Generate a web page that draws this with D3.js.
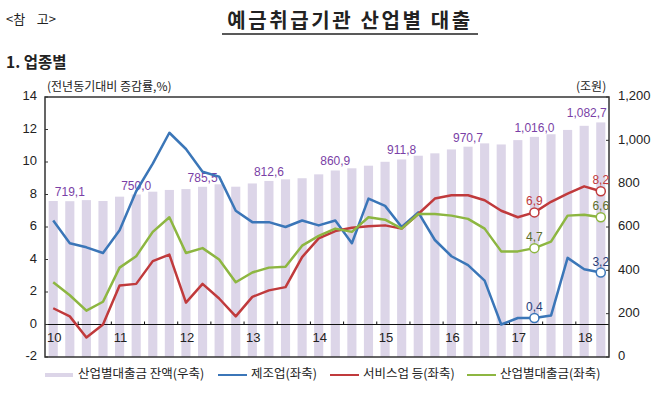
<!DOCTYPE html>
<html>
<head>
<meta charset="utf-8">
<script src="https://cdn.jsdelivr.net/npm/d3@7"></script>
<style>
  body { margin: 0; background: #fff; }
  text { font-family: "Liberation Sans", "Noto Sans CJK KR", sans-serif; fill: #222; }
  .kr { font-family: "Noto Sans CJK KR", sans-serif; }
</style>
</head>
<body>
<svg id="chart" width="660" height="393"></svg>
<script>
// quarters 2010Q1 .. 2018Q2
var years = ["10", "11", "12", "13", "14", "15", "16", "17", "18"];
var quarters = [];
years.forEach(function (y) {
    [1, 2, 3, 4].forEach(function (q) {
        if (!(y === "18" && q > 2)) {
            quarters.push(y + "Q" + q);
        }
    });
});

// 산업별대출금 잔액 (조원, right axis)
var balance = [720, 719.1, 724, 720, 740, 750.0, 763, 771, 775, 785.5, 797, 786,
    801, 812.6, 820, 825, 843, 860.9, 871, 883, 901, 911.8, 929, 940,
    958, 970.7, 986, 981, 1001, 1016.0, 1028, 1048, 1067, 1082.7];

// 제조업 (%, left axis)
var manufacturing = [6.4, 5.0, 4.75, 4.4, 5.8, 8.2, 9.9, 11.8, 10.8, 9.4, 9.1, 7.0,
    6.3, 6.3, 6.0, 6.4, 6.1, 6.4, 5.0, 7.75, 7.3, 6.0, 6.9, 5.2,
    4.2, 3.65, 2.7, 0.0, 0.4, 0.4, 0.55, 4.1, 3.4, 3.2];

// 서비스업 등 (%, left axis)
var services = [1.0, 0.5, -0.8, 0.0, 2.4, 2.5, 3.9, 4.3, 1.35, 2.5, 1.6, 0.5,
    1.7, 2.1, 2.3, 4.15, 5.3, 5.75, 5.95, 6.05, 6.1, 5.9, 6.8, 7.75,
    7.95, 7.95, 7.65, 7.0, 6.6, 6.9, 7.55, 8.05, 8.5, 8.2];

// 산업별대출금 (%, left axis)
var total = [2.6, 1.8, 0.85, 1.4, 3.5, 4.2, 5.7, 6.6, 4.4, 4.7, 4.0, 2.6,
    3.2, 3.5, 3.55, 4.85, 5.45, 5.9, 5.7, 6.6, 6.45, 5.9, 6.8, 6.8,
    6.7, 6.5, 5.9, 4.5, 4.5, 4.7, 5.1, 6.7, 6.75, 6.6];

var balanceLabelIdx = [1, 5, 9, 13, 17, 21, 25, 29, 33];
var markerIdx = [29, 33];

var leftTicks = [14, 12, 10, 8, 6, 4, 2, 0, -2];
var rightTicks = [1200, 1000, 800, 600, 400, 200, 0];

var svg = d3.select("#chart"),
    plot = { x: 45, y: 97, w: 564, h: 260 },
    x = d3.scaleBand().domain(quarters).range([plot.x, plot.x + plot.w]).paddingInner(0.45).paddingOuter(0.22),
    xc = function (q) { return x(q) + x.bandwidth() / 2; },
    yL = d3.scaleLinear().domain([-2, 14]).range([plot.y + plot.h, plot.y]),
    yR = d3.scaleLinear().domain([0, 1200]).range([plot.y + plot.h, plot.y]),
    step = plot.w / quarters.length,
    fmt = function (v) { return d3.format(",.1f")(v).replace(/\.(\d)$/, ",$1"); };

var series = [
    { name: "제조업(좌축)", values: manufacturing, color: "#3b76b8", label: "#2a3f7a" },
    { name: "서비스업 등(좌축)", values: services, color: "#c03a3c", label: "#c03a3c" },
    { name: "산업별대출금(좌축)", values: total, color: "#8db641", label: "#5d6e2c" }
];

// header
svg.append("text").attr("class", "kr").attr("x", 6).attr("y", 24)
    .attr("font-size", 13).style("white-space", "pre").text("<참    고>");
svg.append("text").attr("class", "kr").attr("x", 350).attr("y", 28)
    .attr("text-anchor", "middle").attr("font-size", 20).attr("font-weight", "bold")
    .attr("letter-spacing", 2.6)
    .text("예금취급기관 산업별 대출");
svg.append("line").attr("x1", 222).attr("x2", 478).attr("y1", 34).attr("y2", 34)
    .attr("stroke", "#222").attr("stroke-width", 1.5);
svg.append("text").attr("class", "kr").attr("x", 6).attr("y", 68)
    .attr("font-size", 15.5).attr("font-weight", "bold").text("1. 업종별");

svg.append("text").attr("class", "kr").attr("x", 47).attr("y", 91)
    .attr("font-size", 12).text("(전년동기대비 증감률,%)");
svg.append("text").attr("class", "kr").attr("x", 576).attr("y", 91)
    .attr("font-size", 12).text("(조원)");

// bars
svg.append("g").selectAll("rect").data(balance).enter().append("rect")
    .attr("x", function (d, i) { return x(quarters[i]); })
    .attr("width", x.bandwidth())
    .attr("y", function (d) { return yR(d); })
    .attr("height", function (d) { return yR(0) - yR(d); })
    .attr("fill", "#dcd5e8");

// zero line + half-year ticks
svg.append("line").attr("x1", plot.x).attr("x2", plot.x + plot.w)
    .attr("y1", yL(0)).attr("y2", yL(0)).attr("stroke", "#111").attr("stroke-width", 1);
svg.append("g").selectAll("line").data(d3.range(2, quarters.length, 2)).enter().append("line")
    .attr("x1", function (k) { return plot.x + k * step; })
    .attr("x2", function (k) { return plot.x + k * step; })
    .attr("y1", yL(0)).attr("y2", yL(0) - 3)
    .attr("stroke", "#111");

svg.append("g").selectAll("text").data(years).enter().append("text")
    .attr("x", function (y) { return xc(y + "Q1") + 1; })
    .attr("y", 339)
    .attr("text-anchor", "middle").attr("dominant-baseline", "middle")
    .attr("font-size", 13)
    .text(function (d) { return d; });

// frame
svg.append("rect").attr("x", plot.x).attr("y", plot.y).attr("width", plot.w).attr("height", plot.h)
    .attr("fill", "none").attr("stroke", "#333").attr("stroke-width", 1.5);

// left axis
var gl = svg.append("g");
gl.selectAll("line").data(leftTicks).enter().append("line")
    .attr("x1", plot.x).attr("x2", plot.x + 3)
    .attr("y1", function (d) { return yL(d); }).attr("y2", function (d) { return yL(d); })
    .attr("stroke", "#333");
gl.selectAll("text").data(leftTicks).enter().append("text")
    .attr("x", 37).attr("y", function (d) { return yL(d); })
    .attr("text-anchor", "end").attr("dominant-baseline", "middle")
    .attr("font-size", 13)
    .text(function (d) { return d; });

// right axis
var gr = svg.append("g");
gr.selectAll("line").data(rightTicks).enter().append("line")
    .attr("x1", plot.x + plot.w - 3).attr("x2", plot.x + plot.w)
    .attr("y1", function (d) { return yR(d); }).attr("y2", function (d) { return yR(d); })
    .attr("stroke", "#333");
gr.selectAll("text").data(rightTicks).enter().append("text")
    .attr("x", 618).attr("y", function (d) { return yR(d); })
    .attr("dominant-baseline", "middle")
    .attr("font-size", 13)
    .text(function (d) { return d3.format(",")(d); });

// bar value labels
svg.append("g").selectAll("text").data(balanceLabelIdx).enter().append("text")
    .attr("x", function (i) { return i === quarters.length - 1 ? xc(quarters[i]) + 6 : xc(quarters[i]); })
    .attr("y", function (i) { return yR(balance[i]) - 5; })
    .attr("text-anchor", function (i) { return i === quarters.length - 1 ? "end" : "middle"; })
    .attr("font-size", 12).style("fill", "#7a3fa6")
    .text(function (i) { return fmt(balance[i]); });

// lines
var line = d3.line()
    .x(function (d, i) { return xc(quarters[i]); })
    .y(function (d) { return yL(d); });

series.forEach(function (s) {
    svg.append("path").datum(s.values)
        .attr("d", line)
        .attr("fill", "none")
        .attr("stroke", s.color)
        .attr("stroke-width", 2.5)
        .attr("stroke-linejoin", "round");
    svg.append("g").selectAll("circle").data(markerIdx).enter().append("circle")
        .attr("cx", function (i) { return xc(quarters[i]); })
        .attr("cy", function (i) { return yL(s.values[i]); })
        .attr("r", 4.5)
        .attr("fill", "#fff").attr("stroke", s.color).attr("stroke-width", 1.5);
    svg.append("g").selectAll("text").data(markerIdx).enter().append("text")
        .attr("x", function (i) { return xc(quarters[i]); })
        .attr("y", function (i) { return yL(s.values[i]) - 7; })
        .attr("text-anchor", "middle")
        .attr("font-size", 12).style("fill", s.label)
        .text(function (i) { return fmt(s.values[i]); });
});

// legend
var lg = svg.append("g").attr("class", "legend");
lg.append("rect").attr("x", 45).attr("y", 373).attr("width", 28).attr("height", 4).attr("fill", "#dcd5e8");
lg.append("text").attr("class", "kr").attr("x", 78).attr("y", 375)
    .attr("dominant-baseline", "middle").attr("font-size", 12.5).text("산업별대출금 잔액(우축)");
var legendPos = [218, 330, 467];
series.forEach(function (s, k) {
    lg.append("line").attr("x1", legendPos[k]).attr("x2", legendPos[k] + 29)
        .attr("y1", 375).attr("y2", 375).attr("stroke", s.color).attr("stroke-width", 2);
    lg.append("text").attr("class", "kr").attr("x", legendPos[k] + 33).attr("y", 375)
        .attr("dominant-baseline", "middle").attr("font-size", 12.5).text(s.name);
});
</script>
</body>
</html>
